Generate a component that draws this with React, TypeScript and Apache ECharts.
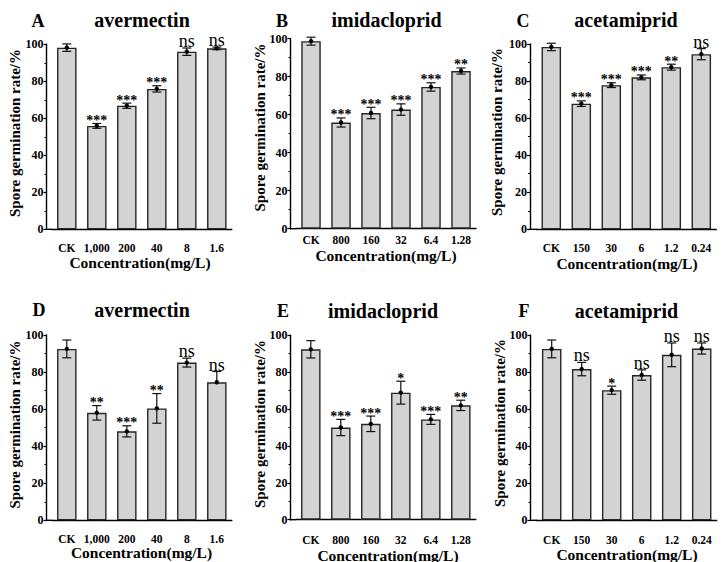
import React, { useEffect, useRef } from "react";
import * as echarts from "echarts";

const catsAvermectin = ["CK", "1,000", "200", "40", "8", "1.6"];
const catsImidacloprid = ["CK", "800", "160", "32", "6.4", "1.28"];
const catsAcetamiprid = ["CK", "150", "30", "6", "1.2", "0.24"];

const meanA = [98.2, 55.9, 66.8, 75.9, 96.0, 97.8];
const errA = [2.0, 1.3, 1.4, 1.7, 2.0, 0.7];
const sigA = ["", "***", "***", "***", "ns", "ns"];

const meanB = [98.7, 55.9, 60.9, 62.7, 74.6, 83.0];
const errB = [2.1, 2.4, 3.0, 3.0, 2.2, 1.6];
const sigB = ["", "***", "***", "***", "***", "**"];

const meanC = [98.4, 67.8, 77.8, 82.0, 87.5, 94.5];
const errC = [2.0, 1.5, 1.3, 1.3, 1.6, 3.0];
const sigC = ["", "***", "***", "***", "**", "ns"];

const meanD = [92.5, 58.0, 48.0, 60.4, 85.1, 74.5];
const errD = [4.8, 3.9, 3.0, 8.0, 2.4, 5.8];
const errDownD = [4.8, 3.9, 3.0, 8.0, 2.4, 0];
const sigD = ["", "**", "***", "**", "ns", "ns"];

const meanE = [92.4, 50.0, 52.0, 68.9, 54.4, 62.0];
const errE = [4.7, 4.4, 4.2, 6.2, 2.7, 2.8];
const sigE = ["", "***", "***", "*", "***", "**"];

const meanF = [92.5, 81.6, 70.2, 78.4, 89.3, 92.7];
const errF = [4.8, 3.6, 2.2, 2.8, 6.4, 3.0];
const sigF = ["", "ns", "*", "ns", "ns", "ns"];

const yTicks = { min: 0, max: 100, interval: 20 };

const letters = ["A", "B", "C", "D", "E", "F"];
const pesticides = ["avermectin", "imidacloprid", "acetamiprid", "avermectin", "imidacloprid", "acetamiprid"];
const yTitle = "Spore germination rate/%";
const xTitle = "Concentration(mg/L)";

const panelData = [
  { cats: catsAvermectin, mean: meanA, up: errA, down: errA, sig: sigA },
  { cats: catsImidacloprid, mean: meanB, up: errB, down: errB, sig: sigB },
  { cats: catsAcetamiprid, mean: meanC, up: errC, down: errC, sig: sigC },
  { cats: catsAvermectin, mean: meanD, up: errD, down: errDownD, sig: sigD },
  { cats: catsImidacloprid, mean: meanE, up: errE, down: errE, sig: sigE },
  { cats: catsAcetamiprid, mean: meanF, up: errF, down: errF, sig: sigF },
];

// layout (pixels)
const layouts = [
  { yx: 46.5, c0: 66.8, top: 44.3, bottom: 229.3, lm: 13, letter: [38, 20.5], title: [142, 20], yt: [15, 133], xn: [140, 262] },
  { yx: 290.5, c0: 311, top: 38.7, bottom: 228.7, lm: 5, letter: [282, 20.5], title: [386.5, 20], yt: [259.5, 127.5], xn: [386, 255] },
  { yx: 530, c0: 551.3, top: 44, bottom: 229.3, lm: 13, letter: [523, 20.5], title: [626, 20], yt: [497, 132], xn: [627, 263] },
  { yx: 46.5, c0: 66.8, top: 335, bottom: 520.3, lm: 13, letter: [39, 310], title: [142, 309.5], yt: [15, 424.5], xn: [141.5, 552.5] },
  { yx: 290.5, c0: 310.8, top: 335.3, bottom: 519.7, lm: 14, letter: [283, 311], title: [383, 310.5], yt: [259.5, 424], xn: [388, 555] },
  { yx: 530.5, c0: 551.7, top: 335, bottom: 520.3, lm: 14, letter: [524, 311], title: [626.5, 310.5], yt: [500, 423], xn: [627, 554] },
];

const FONT = "'Liberation Serif', 'Times New Roman', serif";

export default function App() {
  const ref = useRef<HTMLDivElement>(null);
  useEffect(() => {
    document.body.style.margin = "0";
    const chart = echarts.init(ref.current!, undefined, { renderer: "svg" });
    const grid: any[] = [];
    const xAxis: any[] = [];
    const yAxis: any[] = [];
    const series: any[] = [];
    const graphic: any[] = [];

    layouts.forEach((L, k) => {
      const P = panelData[k];
      const gl = L.c0 - 15;
      grid.push({ left: gl, top: L.top, width: 180, height: L.bottom - L.top });
      xAxis.push({
        type: "category",
        gridIndex: k,
        data: P.cats,
        boundaryGap: true,
        axisLine: { lineStyle: { color: "#000", width: 1.4 } },
        axisTick: { show: false },
        axisLabel: { color: "#000", fontFamily: FONT, fontWeight: "bold", fontSize: 11.5, margin: L.lm, interval: 0 },
      });
      yAxis.push({
        type: "value",
        gridIndex: k,
        min: yTicks.min,
        max: yTicks.max,
        interval: yTicks.interval,
        offset: gl - L.yx,
        axisLine: { show: true, lineStyle: { color: "#000", width: 1.4 } },
        axisTick: { show: true, length: 3, lineStyle: { color: "#000", width: 1.2 } },
        minorTick: { show: true, splitNumber: 2, length: 2, lineStyle: { color: "#000", width: 1 } },
        splitLine: { show: false },
        axisLabel: { color: "#000", fontFamily: FONT, fontWeight: "bold", fontSize: 12, margin: 3 },
      });
      series.push({
        type: "bar",
        xAxisIndex: k,
        yAxisIndex: k,
        data: P.mean,
        barWidth: 19.5,
        itemStyle: { color: "#d3d3d3", borderColor: "#262626", borderWidth: 1.4 },
        z: 2,
      });
      series.push({
        type: "custom",
        xAxisIndex: k,
        yAxisIndex: k,
        z: 5,
        itemStyle: { color: "#000" },
        data: P.mean.map((m, i) => [i, m, P.up[i], P.down[i]]),
        encode: { x: 0, y: 1 },
        renderItem: (params: any, api: any) => {
          const i = api.value(0);
          const m = api.value(1);
          const eu = api.value(2);
          const ed = api.value(3);
          const c = api.coord([i, m]);
          const t = api.coord([i, m + eu]);
          const b = api.coord([i, m - ed]);
          const x = c[0];
          const hw = 4.5;
          const ls = { stroke: "#111", lineWidth: 1.2 };
          const children: any[] = [
            { type: "line", shape: { x1: x, y1: t[1], x2: x, y2: b[1] }, style: ls },
            { type: "line", shape: { x1: x - hw, y1: t[1], x2: x + hw, y2: t[1] }, style: ls },
            { type: "circle", shape: { cx: x, cy: c[1], r: 2.2 }, style: { fill: "#000" } },
          ];
          if (ed > 0) children.push({ type: "line", shape: { x1: x - hw, y1: b[1], x2: x + hw, y2: b[1] }, style: ls });
          const s = P.sig[params.dataIndex];
          if (s) {
            const isNs = s === "ns";
            children.push({
              type: "text",
              x: x,
              y: isNs ? t[1] - 7 : t[1] - 3,
              style: {
                text: s,
                align: "center",
                verticalAlign: "middle",
                fontFamily: FONT,
                fontWeight: isNs ? "normal" : "bold",
                fontSize: isNs ? 18 : 14,
                fill: "#000",
              },
            });
          }
          return { type: "group", children };
        },
      });
      // corner connector between offset y-axis and x-axis line
      graphic.push({ type: "line", shape: { x1: L.yx - 0.7, y1: L.bottom, x2: gl + 0.5, y2: L.bottom }, style: { stroke: "#000", lineWidth: 1.4 } });
      graphic.push({ type: "text", x: L.letter[0], y: L.letter[1], style: { text: letters[k], align: "center", verticalAlign: "middle", fontFamily: FONT, fontWeight: "bold", fontSize: 18, fill: "#000" } });
      graphic.push({ type: "text", x: L.title[0], y: L.title[1], style: { text: pesticides[k], align: "center", verticalAlign: "middle", fontFamily: FONT, fontWeight: "bold", fontSize: 20, fill: "#000" } });
      graphic.push({ type: "text", x: L.yt[0], y: L.yt[1], rotation: Math.PI / 2, style: { text: yTitle, align: "center", verticalAlign: "middle", fontFamily: FONT, fontWeight: "bold", fontSize: 15, fill: "#000" } });
      graphic.push({ type: "text", x: L.xn[0], y: L.xn[1], style: { text: xTitle, align: "center", verticalAlign: "middle", fontFamily: FONT, fontWeight: "bold", fontSize: 15.5, fill: "#000" } });
    });

    chart.setOption({
      animation: false,
      backgroundColor: "#fff",
      grid,
      xAxis,
      yAxis,
      series,
      graphic,
    });
    return () => chart.dispose();
  }, []);
  return <div ref={ref} style={{ width: 726, height: 562 }} />;
}
